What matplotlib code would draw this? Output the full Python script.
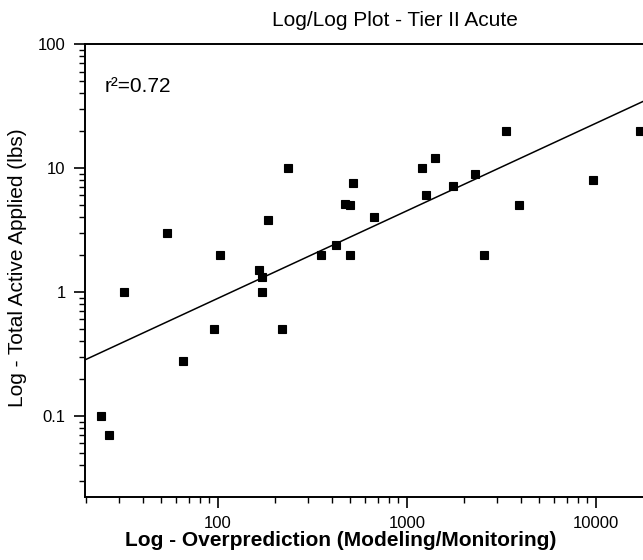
import numpy as np
import matplotlib
matplotlib.use("Agg")
import matplotlib.pyplot as plt
from matplotlib.ticker import LogLocator, FixedLocator, FuncFormatter, NullFormatter

plt.rcParams["font.family"] = ["Liberation Sans", "DejaVu Sans"]

# overprediction (modeling/monitoring) vs total active applied (lbs)
overprediction = [24, 26.5, 32, 54, 65, 95, 103, 165, 170, 172, 185, 217, 235,
                  350, 420, 470, 500, 500, 520, 670, 1200, 1260, 1400, 1750,
                  2300, 2550, 3350, 3900, 9700, 17000]
active_applied = [0.1, 0.07, 1, 3, 0.28, 0.5, 2, 1.5, 1, 1.33, 3.8, 0.5, 10,
                  2, 2.4, 5.1, 5.0, 2, 7.6, 4, 10, 6, 12, 7.2,
                  9, 2, 20, 5, 8, 20]
# log10(y) = fit_intercept + fit_slope * log10(x)
fit_slope = 0.706
fit_intercept = -1.463
r2_label = "r\u00b2=0.72"

x = np.array(overprediction)
y = np.array(active_applied)

fig = plt.figure(figsize=(6.43, 5.60), dpi=100)
# axes run past the right edge of the figure, as in the cropped original
ax = fig.add_axes([85 / 643, 63 / 560, 700 / 643, 453 / 560])
ax.set_xscale("log")
ax.set_yscale("log")
ax.set_xlim(19.8, 1e5)
ax.set_ylim(0.0222, 100)

xfit = np.logspace(np.log10(19.8), 5, 50)
ax.plot(xfit, 10 ** (fit_intercept + fit_slope * np.log10(xfit)), color="black", lw=1.1)
ax.plot(x, y, "s", color="black", ms=6.4, mew=0.8, clip_on=False)

ax.spines["right"].set_visible(False)
for s in ["left", "top", "bottom"]:
    ax.spines[s].set_linewidth(1.4)

fmt = FuncFormatter(lambda v, p: "{:g}".format(v))
ax.xaxis.set_major_locator(FixedLocator([100, 1000, 10000]))
ax.yaxis.set_major_locator(FixedLocator([0.1, 1, 10, 100]))
for axis in [ax.xaxis, ax.yaxis]:
    axis.set_minor_locator(LogLocator(base=10, subs=np.arange(2, 10)))
    axis.set_major_formatter(fmt)
    axis.set_minor_formatter(NullFormatter())
ax.tick_params(which="major", direction="out", length=8, width=1.2, labelsize=12, pad=6)
ax.tick_params(which="minor", direction="out", length=4, width=1.0)
ax.tick_params(top=False, right=False)

ax.text(0.03, 0.87, r2_label, transform=ax.transAxes, fontsize=15, va="baseline")
# put the r2 label at its pixel spot in the original
ax.texts[-1].set_transform(matplotlib.transforms.IdentityTransform())
ax.texts[-1].set_position((105, 560 - 92))

fig.text(395 / 643, 1 - 20 / 560, "Log/Log Plot - Tier II Acute", ha="center", va="center", fontsize=15)
fig.text(341 / 643, 1 - 540 / 560, "Log - Overprediction (Modeling/Monitoring)",
         ha="center", va="center", fontsize=15, fontweight="bold")
fig.text(18 / 643, 1 - 268 / 560, "Log - Total Active Applied (lbs)", ha="center", va="center",
         rotation=90, fontsize=15)

fig.savefig("out.png", dpi=100)
